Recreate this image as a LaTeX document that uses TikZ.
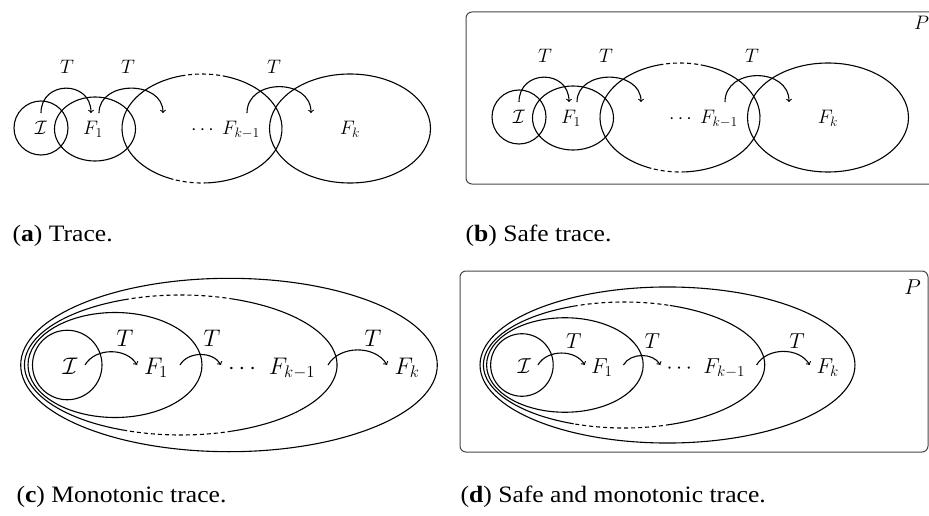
\RequirePackage{fix-cm}
\documentclass[tikz,border=0pt]{standalone}
\usepackage{fontspec}
\setmainfont{Liberation Serif}
\usetikzlibrary{calc}
\newcommand\capfont{\fontsize{23.5}{27}\selectfont}
% dashed ellipse: #1 centre, #2 rx, #3 ry, #4 b1, #5 b2, #6 t1, #7 t2
\newcommand\dashell[7]{%
  \draw #1 ++(#7:#2 and #3) arc[start angle=#7, end angle=360+#4, x radius=#2, y radius=#3];
  \draw[dsh] #1 ++(#4:#2 and #3) arc[start angle=#4, end angle=#5, x radius=#2, y radius=#3];
  \draw #1 ++(#5:#2 and #3) arc[start angle=#5, end angle=#6, x radius=#2, y radius=#3];
  \draw[dsh] #1 ++(#6:#2 and #3) arc[start angle=#6, end angle=#7, x radius=#2, y radius=#3];
}
% panel (a)/(b) content
\newcommand\panelA[1]{%
  \draw (41,128) circle[radius=27];
  \draw (95,129) ellipse[x radius=40.5, y radius=32];
  \dashell{(202,128.5)}{80}{54.5}{86}{111}{255}{285}
  \draw (350,128.5) ellipse[x radius=80.5, y radius=54.5];
  \node[lbl] (#1I) at (41,135) {$\mathcal{I}$};
  \node[lbl] (#1F1) at (93,135) {$F_1$};
  \node[lbl] (#1dots) at (202.5,135) {$\cdots$};
  \node[lbl] (#1Fkm) at (241,135) {$F_{k-1}$};
  \node[lbl] (#1Fk) at (350,135) {$F_k$};
  \node[lbl] (#1T1) at (67,73.3) {$T$};
  \node[lbl] (#1T2) at (128,73.3) {$T$};
  \node[lbl] (#1T3) at (274,73.3) {$T$};
  \coordinate (#1s1) at (41,113); \coordinate (#1e1) at (91,113);
  \coordinate (#1s2) at (99,113); \coordinate (#1e2) at (163,113);
  \coordinate (#1s3) at (247,113); \coordinate (#1e3) at (311,113);
  \draw[->] (#1s1) .. controls ($(#1s1)+(0,-33)$) and ($(#1e1)+(0,-33)$) .. (#1e1);
  \draw[->] (#1s2) .. controls ($(#1s2)+(0,-33)$) and ($(#1e2)+(0,-33)$) .. (#1e2);
  \draw[->] (#1s3) .. controls ($(#1s3)+(0,-35)$) and ($(#1e3)+(0,-35)$) .. (#1e3);
}
% panel (c)/(d) content
\newcommand\panelC[1]{%
  \draw (229,365) ellipse[x radius=208.3, y radius=86.7];
  \dashell{(180.75,365)}{156.25}{70}{71}{111}{249}{289}
  \draw (115,365) ellipse[x radius=87, y radius=52.5];
  \draw (67.25,365) circle[radius=34.75];
  \node[lbl] (#1I) at (70,374) {$\mathcal{I}$};
  \node[lbl] (#1F1) at (156,374) {$F_1$};
  \node[lbl] (#1dots) at (242,374) {$\cdots$};
  \node[lbl] (#1Fkm) at (292,374) {$F_{k-1}$};
  \node[lbl] (#1Fk) at (407,374) {$F_k$};
  \node[lbl] (#1T1) at (125,346.7) {$T$};
  \node[lbl] (#1T2) at (212,346.7) {$T$};
  \node[lbl] (#1T3) at (373,346.7) {$T$};
  \coordinate (#1s1) at (85,365); \coordinate (#1e1) at (137,365);
  \coordinate (#1s2) at (180,365); \coordinate (#1e2) at (221,365);
  \coordinate (#1s3) at (328,365); \coordinate (#1e3) at (387,365);
  \draw[->] (#1s1) .. controls ($(#1s1)+(10.2,-17.6)$) and ($(#1e1)+(-10.2,-17.6)$) .. (#1e1);
  \draw[->] (#1s2) .. controls ($(#1s2)+(8,-13.9)$) and ($(#1e2)+(-8,-13.9)$) .. (#1e2);
  \draw[->] (#1s3) .. controls ($(#1s3)+(11.6,-20)$) and ($(#1e3)+(-11.6,-20)$) .. (#1e3);
}
\begin{document}
\begin{tikzpicture}[x=1pt, y=-1pt, line width=1.1pt,
  lbl/.style={inner sep=0pt, anchor=base},
  dsh/.style={dash pattern=on 4pt off 3pt},
  boxP/.style={draw=black!72, line width=1pt, rounded corners=6pt},
  captxt/.style={anchor=base west, inner sep=0pt, font=\capfont, xscale=1.09}]
\useasboundingbox (0,0) rectangle (929,516);
\fill[white] (0,0) rectangle (929,516);

% (a)
\begin{scope}[font=\fontsize{19.5}{23}\selectfont]
  \panelA{a}
\end{scope}
% (b)
\draw[boxP] (466,12) rectangle (950,184);
\begin{scope}[shift={(478,-11)}, font=\fontsize{19.5}{23}\selectfont]
  \panelA{b}
\end{scope}
\node[lbl, font=\fontsize{19.5}{23}\selectfont] (bP) at (921.7,30) {$P$};

% (c)
\begin{scope}[font=\fontsize{24}{28}\selectfont]
  \panelC{c}
\end{scope}
% (d)
\draw[boxP] (460,271) rectangle (928,452);
\begin{scope}[shift={(461.4,36.5)}, scale=0.9, transform shape, font=\fontsize{24}{28}\selectfont]
  \panelC{d}
\end{scope}
\node[lbl, font=\fontsize{21.5}{25}\selectfont] (dP) at (912.5,294) {$P$};

% captions
\node[captxt] (capa) at (12,241) {(\textbf{a}) Trace.};
\node[captxt] (capb) at (465,241) {(\textbf{b}) Safe trace.};
\node[captxt] (capc) at (16,502) {(\textbf{c}) Monotonic trace.};
\node[captxt] (capd) at (460,502) {(\textbf{d}) Safe and monotonic trace.};
\end{tikzpicture}
\end{document}
